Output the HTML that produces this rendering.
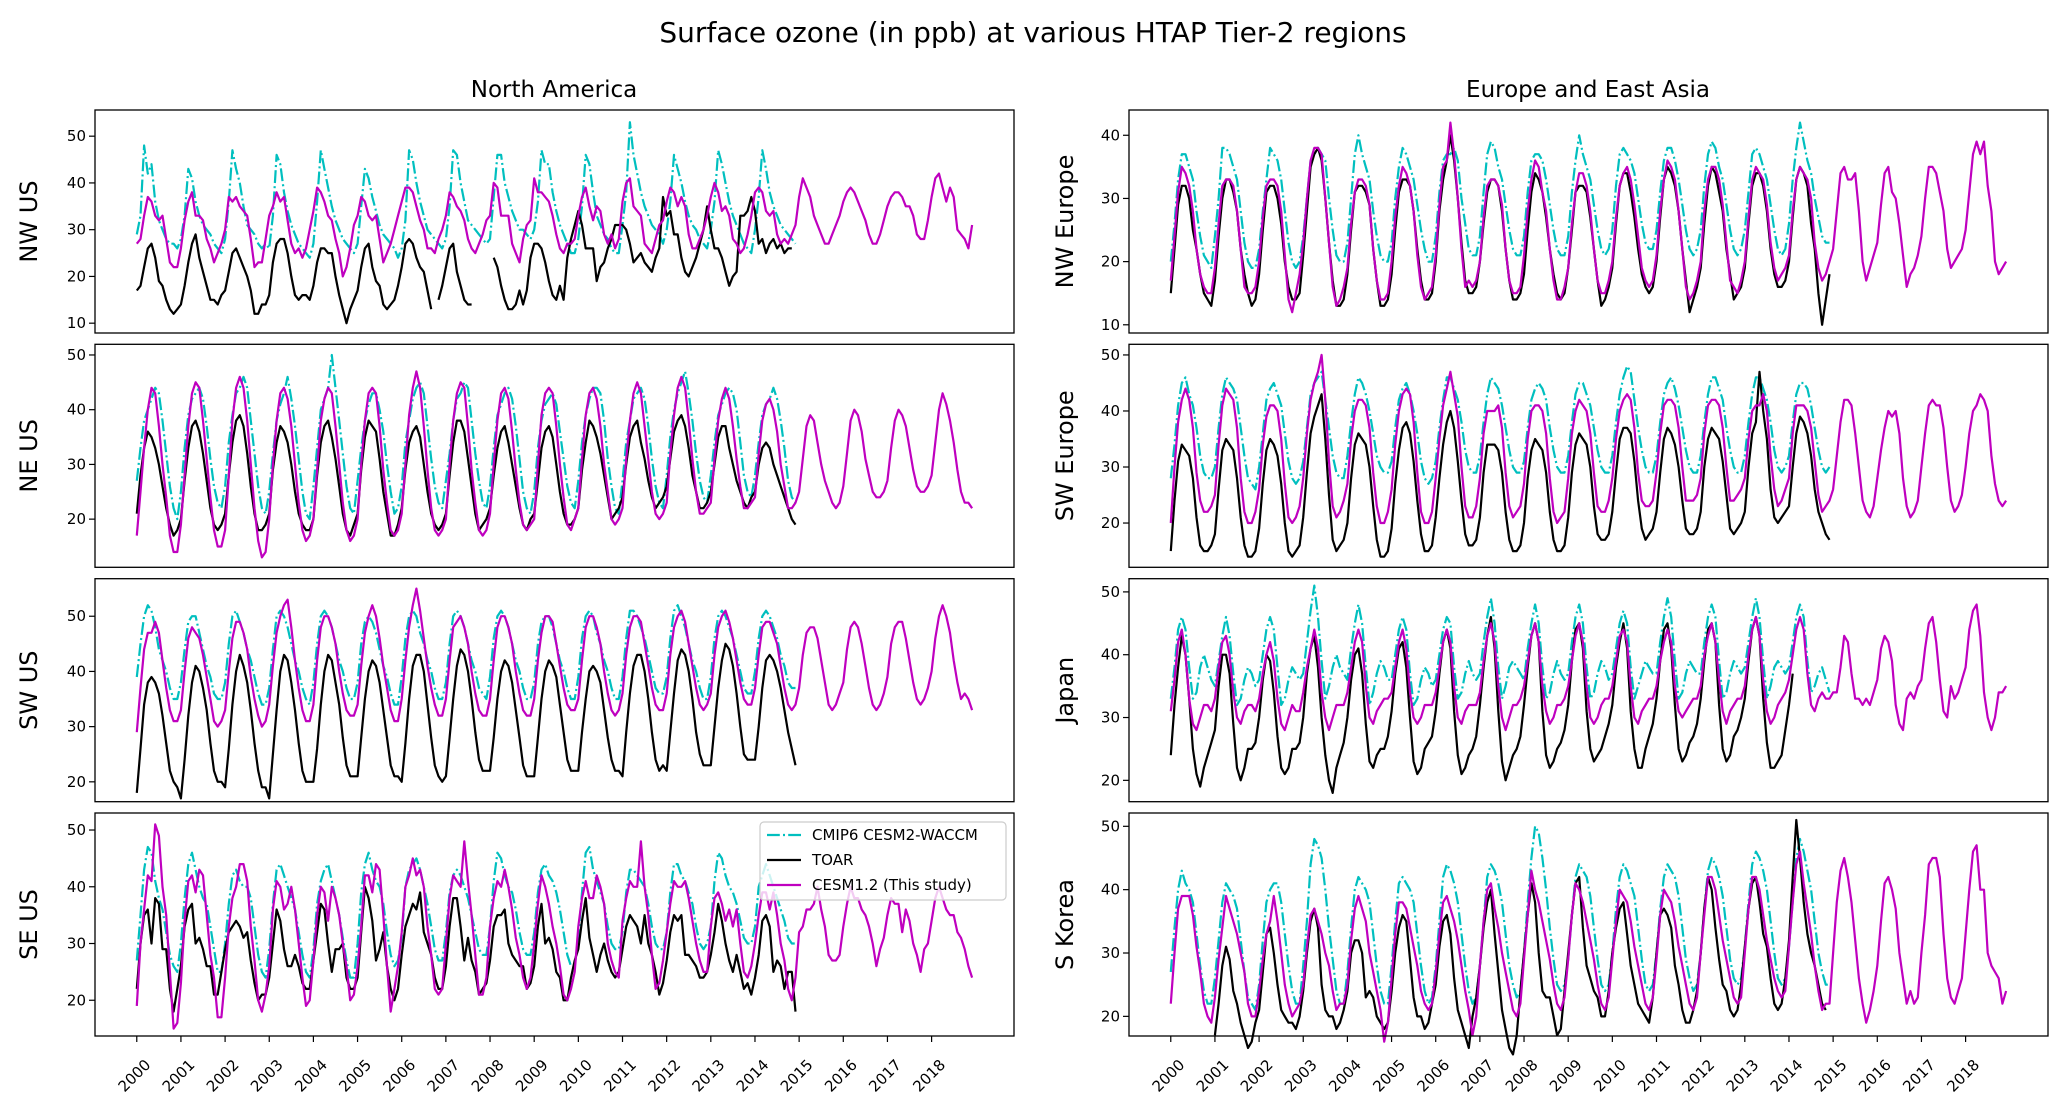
<!DOCTYPE html>
<html><head><meta charset="utf-8"><style>
body{margin:0;background:#fff;}
svg{display:block;font-family:"DejaVu Sans","Liberation Sans",sans-serif;}
</style></head><body>
<svg id="fig" width="2067" height="1115" viewBox="0 0 2067 1115" xmlns="http://www.w3.org/2000/svg">
<rect width="2067" height="1115" fill="#fff"/>
<text x="1033" y="42" font-size="28" text-anchor="middle">Surface ozone (in ppb) at various HTAP Tier-2 regions</text>
<text x="554" y="97" font-size="23" text-anchor="middle">North America</text>
<text x="1588" y="97" font-size="23" text-anchor="middle">Europe and East Asia</text>
</svg>
<script>
const years = [2000,2001,2002,2003,2004,2005,2006,2007,2008,2009,2010,2011,2012,2013,2014,2015,2016,2017,2018];
const seriesNames = ["CMIP6 CESM2-WACCM","TOAR","CESM1.2 (This study)"];
const N = null;

const nwusCmip=[29,33,48,42,44,36,32,30,28,27,27,26,28,33,43,41,36,33,31,30,29,27,26,25,28,36,47,43,40,35,31,30,29,27,26,27,26,33,46,44,38,34,31,29,27,26,25,24,27,36,47,43,39,35,32,30,28,27,26,25,27,35,43,41,37,34,31,29,28,27,26,24,26,32,47,45,40,36,33,30,29,28,27,26,28,35,47,46,40,36,32,31,30,29,28,27,28,37,46,46,40,37,34,32,30,30,29,28,30,36,47,44,44,38,34,31,29,27,25,25,28,35,46,44,38,33,31,29,28,26,25,25,31,38,53,46,42,38,35,33,31,30,29,27,30,36,46,43,40,36,33,31,30,28,27,26,30,36,47,44,40,36,33,31,29,27,26,25,30,37,47,43,38,35,33,31,30,29,28,27];
const nwusToar=[17,18,22,26,27,24,19,18,15,13,12,13,14,18,23,27,29,24,21,18,15,15,14,16,17,21,25,26,24,22,20,17,12,12,14,14,16,23,27,28,28,25,20,16,15,16,16,15,18,23,26,26,25,25,20,16,13,10,13,15,17,22,26,27,22,19,18,14,13,14,15,18,22,27,28,27,24,22,21,17,13,N,15,18,22,26,27,21,18,15,14,14,N,N,N,18,N,24,22,18,15,13,13,14,17,14,17,24,27,27,26,23,19,16,15,18,15,24,28,31,34,31,26,26,26,19,22,23,26,28,31,31,31,30,27,23,24,25,23,22,21,24,26,37,33,34,29,29,24,21,20,22,24,27,30,35,30,26,26,24,21,18,20,21,33,33,34,37,34,27,28,25,27,28,26,27,25,26,26,N];
const nwusCesm=[27,28,33,37,36,33,32,33,28,23,22,22,26,32,36,38,33,33,32,28,26,23,25,27,30,37,36,37,35,34,33,28,22,23,23,28,33,35,38,36,37,32,27,25,26,24,26,30,34,39,38,36,33,32,28,25,20,22,26,31,33,37,36,33,32,33,28,23,25,27,30,33,36,39,39,38,35,32,30,26,26,25,28,30,33,38,37,35,34,32,28,26,25,27,29,32,33,40,39,33,33,33,27,25,23,28,31,32,41,38,38,37,36,33,29,26,25,27,27,28,33,37,39,35,32,35,34,29,27,29,26,28,36,40,41,35,34,33,27,26,25,28,31,32,36,39,38,35,37,35,29,26,26,28,30,33,37,40,38,34,35,33,28,27,25,26,29,33,38,39,38,34,33,34,29,27,28,27,29,31,37,41,39,37,33,31,29,27,27,29,31,33,36,38,39,38,36,34,32,29,27,27,29,32,35,37,38,38,37,35,35,33,29,28,28,32,37,41,42,39,36,39,37,30,29,28,26,31];

const neusCmip=[27,33,38,40,42,44,43,38,32,26,22,20,25,33,39,42,43,44,42,37,31,26,23,22,26,34,39,43,44,46,44,38,32,26,22,21,25,32,38,41,43,46,42,37,31,25,21,20,26,33,40,42,44,50,44,38,32,26,22,21,27,33,38,41,43,43,40,36,30,25,21,22,26,34,38,42,44,45,43,37,31,26,23,22,27,32,38,42,43,45,44,38,32,27,23,22,26,33,39,41,43,44,42,37,31,25,22,21,25,33,38,41,42,43,41,36,31,26,23,22,27,34,39,42,44,44,43,38,31,26,22,21,27,34,38,42,43,44,42,37,31,26,23,22,28,35,40,43,45,47,43,38,32,27,24,23,28,34,39,41,43,44,43,40,34,28,25,24,28,34,39,41,42,44,42,38,33,27,24,23];
const neusToar=[21,28,33,36,35,33,30,26,22,19,17,18,20,27,33,37,38,36,32,27,22,19,18,19,21,28,34,38,39,37,32,26,21,18,18,19,21,29,34,37,36,34,30,25,21,19,18,18,20,28,34,37,38,35,31,26,21,18,17,19,21,29,35,38,37,36,31,25,21,17,17,19,22,29,34,36,37,35,30,25,21,19,18,19,21,28,34,38,38,36,31,26,21,18,19,20,22,28,33,36,37,34,30,26,22,19,18,20,21,27,33,36,37,35,30,25,21,19,19,20,22,29,34,38,37,35,32,28,24,20,21,22,24,30,35,37,38,34,31,27,24,22,23,24,26,31,36,38,39,37,33,28,25,22,22,23,25,30,35,37,37,33,30,27,25,23,22,24,25,30,33,34,33,30,28,26,24,22,20,19];
const neusCesm=[17,25,33,40,44,43,37,30,24,17,14,14,19,28,37,43,45,44,38,31,24,18,15,15,18,28,38,44,46,44,38,30,22,16,13,14,20,30,38,43,44,42,37,30,23,18,16,17,20,29,38,42,44,43,37,30,23,18,16,17,20,30,38,43,44,43,37,29,23,18,17,18,21,30,39,44,47,44,37,29,22,18,17,18,20,30,38,43,45,44,37,29,23,18,17,18,21,30,38,43,44,42,36,29,23,19,18,19,20,30,39,43,44,43,37,30,24,19,18,20,22,31,39,43,44,42,37,30,25,20,19,20,22,31,38,43,45,43,37,31,25,21,20,21,23,32,39,44,46,44,38,31,25,21,21,22,23,31,38,42,44,42,37,31,26,22,22,23,24,32,38,41,42,40,36,30,26,22,22,23,25,31,37,39,38,34,30,27,25,23,22,23,26,32,38,40,39,36,31,28,25,24,24,25,27,33,38,40,39,37,33,29,26,25,25,26,28,34,40,43,41,38,34,29,25,23,23,22];

const swusCmip=[39,45,50,52,51,48,44,42,40,37,35,35,38,44,49,50,50,47,44,41,39,36,35,35,38,45,50,51,49,47,44,42,39,36,34,34,37,44,50,51,50,48,45,42,40,37,35,34,38,45,50,51,50,48,45,42,40,37,35,35,38,45,49,50,49,47,44,41,39,36,34,34,39,46,50,51,50,47,45,42,40,37,35,35,38,45,50,51,50,48,45,42,40,37,36,35,39,46,50,51,50,48,45,42,40,37,35,35,38,45,49,50,50,48,45,42,40,37,35,35,39,46,50,51,50,47,45,42,40,37,35,35,39,46,51,51,50,48,46,43,40,37,36,36,39,46,51,52,50,48,45,42,40,37,35,35,39,46,50,51,50,48,46,43,40,37,36,36,40,46,50,51,50,48,46,43,41,38,37,37];
const swusToar=[18,26,34,38,39,38,36,32,27,22,20,19,17,24,32,38,41,40,37,33,27,22,20,20,19,26,34,40,43,41,38,33,27,22,19,19,17,25,33,40,43,42,38,33,27,22,20,20,20,26,34,40,43,42,38,34,28,23,21,21,21,28,35,40,42,41,38,33,28,23,21,21,20,27,35,41,43,43,40,34,28,23,21,20,21,28,35,41,44,43,40,35,29,24,22,22,22,28,35,40,42,41,38,33,28,23,21,21,21,28,35,40,42,41,39,34,29,24,22,22,22,29,35,40,41,40,38,33,28,24,22,22,21,29,36,41,43,43,40,35,29,24,22,23,22,29,36,42,44,43,40,35,29,25,23,23,23,30,37,42,45,44,41,36,30,25,24,24,24,30,37,42,43,42,40,37,33,29,26,23];
const swusCesm=[29,37,44,47,47,49,47,42,37,33,31,31,33,40,46,48,47,46,43,39,35,31,30,31,33,40,46,49,49,47,44,39,35,32,30,31,34,41,47,50,52,53,48,42,37,33,31,31,34,42,48,50,50,48,45,40,36,33,32,32,34,41,47,50,52,50,46,41,37,33,31,31,35,42,48,52,55,51,46,41,37,34,32,32,35,42,48,49,50,48,45,40,36,33,32,32,35,42,48,50,50,48,45,40,36,33,32,32,35,42,47,50,50,49,45,41,37,34,33,33,35,42,48,50,50,48,45,40,36,33,32,33,36,43,48,50,50,49,45,41,37,34,33,33,36,43,48,50,51,49,45,41,37,34,33,34,36,43,48,50,51,49,46,42,38,35,34,34,37,43,48,49,49,47,45,41,37,34,33,34,37,43,47,48,48,46,42,38,34,33,34,36,38,44,48,49,48,45,41,37,34,33,34,36,39,45,48,49,49,46,42,38,35,34,35,37,40,46,50,52,50,47,42,38,35,36,35,33];

const seusCmip=[27,35,43,47,46,41,38,36,32,28,26,25,30,38,44,46,43,40,38,37,33,29,25,25,30,37,42,43,41,40,40,38,33,28,25,24,29,37,43,44,42,40,38,36,32,28,25,24,29,37,41,43,44,41,38,35,31,27,24,24,30,39,44,46,43,41,40,37,32,28,26,27,31,40,43,44,45,43,40,37,33,29,27,27,32,39,42,43,42,40,38,35,32,29,28,28,33,41,46,45,42,40,39,36,32,29,28,28,32,39,43,44,42,41,39,36,32,28,26,26,31,39,46,47,43,41,39,37,33,30,29,29,32,39,43,43,42,41,40,37,33,30,29,29,32,39,44,44,42,41,39,37,33,30,29,30,33,41,46,45,42,40,39,37,34,31,30,30,33,40,42,44,42,40,38,36,34,31,30,30];
const seusToar=[22,30,35,36,30,38,37,29,29,22,18,22,26,33,36,37,30,31,29,26,26,21,21,25,29,32,33,34,33,31,32,27,23,20,21,21,24,30,36,34,29,26,26,28,26,23,22,22,27,32,37,36,30,25,29,29,30,24,22,22,24,32,40,38,34,27,29,32,26,22,20,22,28,33,35,37,36,39,32,30,28,24,22,22,26,33,38,38,33,27,31,27,25,21,22,23,27,33,35,35,36,30,28,27,26,26,22,23,26,33,37,30,31,29,25,24,20,20,24,27,29,34,38,31,28,25,28,30,27,25,24,25,29,33,35,34,33,30,35,30,28,25,21,23,27,32,35,34,35,28,28,27,26,24,24,25,28,32,37,34,30,27,25,28,25,22,23,21,24,28,34,35,33,25,27,26,22,25,25,18];
const seusCesm=[19,30,36,42,41,51,49,40,35,25,15,16,23,34,41,42,39,43,42,35,28,24,17,17,24,33,38,40,44,44,41,33,27,20,18,21,26,36,41,40,36,37,40,36,30,24,19,20,27,35,40,39,34,40,38,35,30,26,20,21,26,33,42,42,39,44,43,35,26,18,22,26,32,40,42,45,42,43,40,33,28,22,21,22,30,38,42,41,40,48,41,35,28,21,21,24,33,38,41,40,43,40,36,31,28,24,22,24,30,37,42,40,37,33,30,26,21,20,22,25,33,38,41,38,38,42,40,37,30,27,25,24,34,38,41,40,40,48,40,35,28,22,23,27,32,37,41,40,40,41,38,34,30,27,25,25,33,38,39,37,34,36,33,36,30,25,24,26,30,35,39,39,36,39,35,30,27,22,20,24,32,33,36,36,37,40,36,33,28,27,27,28,33,37,40,38,38,36,35,33,30,26,29,31,35,38,37,37,32,36,34,30,28,25,29,30,34,38,40,38,36,35,35,32,31,29,26,24];

const nweCmip=[20,26,33,37,37,35,33,28,24,21,20,19,24,30,38,38,37,35,33,28,23,20,19,19,22,28,33,38,37,36,33,28,23,20,19,20,24,30,36,37,38,37,36,30,25,21,20,20,23,30,37,40,37,35,33,28,24,21,20,20,23,30,35,38,37,35,33,29,25,22,20,20,24,31,36,37,37,38,36,30,26,22,21,21,24,31,37,39,38,35,33,29,25,22,21,21,24,31,36,37,37,36,33,29,25,22,21,21,24,31,36,40,37,35,33,29,25,22,21,22,25,32,37,38,37,36,34,30,26,23,22,22,25,31,36,38,38,36,33,29,25,22,21,22,25,32,37,39,38,35,33,29,25,22,21,22,25,31,37,38,37,35,33,29,25,22,21,22,26,33,38,42,39,36,34,30,27,24,23,23];
const nweToar=[15,22,29,32,32,30,25,22,18,15,14,13,17,24,30,33,33,31,28,22,18,15,13,14,18,25,31,32,32,30,26,20,16,14,14,15,21,28,35,37,38,36,30,23,17,13,13,14,18,25,31,32,32,31,29,22,17,13,13,14,18,25,31,33,33,32,28,22,17,14,14,15,20,28,33,36,40,36,30,23,17,15,15,16,20,26,31,33,33,32,28,22,17,14,14,15,18,25,31,34,33,31,27,22,18,15,14,15,19,25,31,32,32,31,27,22,17,13,14,16,19,26,32,34,34,31,27,22,18,16,15,16,20,27,33,35,34,32,28,22,17,12,14,16,19,26,32,35,34,31,28,22,18,14,15,16,19,26,32,34,34,32,28,22,18,16,16,17,20,27,33,35,34,32,26,22,15,10,14,18];
const nweCesm=[17,24,31,35,34,32,28,22,18,16,15,15,19,26,32,33,33,32,28,22,16,15,15,16,20,27,32,33,33,32,28,21,14,12,15,18,23,30,36,38,38,37,30,23,16,13,14,16,19,26,31,33,33,32,29,22,17,14,14,15,20,27,32,35,34,32,28,21,16,14,15,16,21,29,35,36,42,37,30,22,16,17,16,17,20,27,32,33,33,32,29,22,17,15,15,16,21,28,33,36,35,31,28,22,17,14,14,16,19,26,31,34,34,32,28,22,17,15,15,17,20,27,32,34,35,33,29,24,19,17,16,17,21,28,33,36,35,33,28,22,16,14,15,17,20,28,33,35,35,33,29,23,17,16,15,17,20,27,33,35,34,33,29,23,19,17,18,19,21,28,33,35,34,33,30,23,19,17,18,20,22,28,34,35,33,33,34,28,20,17,19,21,23,29,34,35,31,30,26,21,16,18,19,21,24,30,35,35,34,31,28,22,19,20,21,22,25,31,37,39,37,39,32,28,20,18,19,20];

const sweCmip=[28,34,41,45,46,43,41,37,32,29,28,28,30,37,43,46,45,44,42,37,32,28,27,26,30,36,42,44,45,43,41,36,31,28,27,28,31,37,43,45,46,47,42,37,32,29,28,28,32,38,43,46,45,43,40,36,32,30,29,29,31,37,42,44,45,43,40,36,31,28,27,28,31,37,42,46,46,44,42,38,33,30,29,29,32,38,43,46,45,44,41,37,33,30,29,29,31,37,42,44,45,44,42,37,33,30,29,29,32,38,43,45,45,43,41,37,33,30,29,29,32,38,43,46,48,47,42,37,33,30,29,29,32,38,43,45,46,44,41,37,33,30,29,29,32,38,43,46,46,44,42,37,33,30,29,29,32,38,43,46,46,44,42,38,33,30,29,30,32,38,43,45,45,44,41,37,33,30,29,30];
const sweToar=[15,24,31,34,33,32,28,21,16,15,15,16,18,26,33,35,34,33,28,21,16,14,14,15,19,27,33,35,34,32,27,20,15,14,15,16,21,29,36,39,41,43,35,25,17,15,16,17,20,28,34,36,35,34,30,23,17,14,14,15,19,27,33,37,38,36,31,24,18,15,15,16,21,28,34,38,40,37,31,24,18,16,16,17,21,29,34,34,34,33,29,22,17,15,15,16,20,28,33,35,34,33,29,22,17,15,15,16,21,29,34,36,35,34,30,23,18,17,17,18,22,29,35,37,37,36,31,24,19,17,18,19,22,29,35,37,36,34,30,24,19,18,18,19,22,30,35,37,36,35,31,25,19,18,19,20,22,30,36,38,47,40,35,26,21,20,21,22,23,30,36,39,38,36,32,26,22,20,18,17];
const sweCesm=[20,30,38,42,44,42,37,29,24,22,22,23,25,34,41,44,43,42,37,28,22,20,20,22,26,34,39,41,41,40,35,27,21,20,21,23,28,36,42,45,47,50,42,31,23,21,22,24,27,35,40,42,42,41,37,29,23,20,20,22,26,34,40,43,44,43,38,29,22,20,20,22,28,35,41,44,47,43,39,30,23,21,21,23,28,36,40,40,40,41,37,29,23,21,22,23,27,35,40,41,41,40,36,28,22,20,21,22,28,36,40,42,41,40,36,29,23,22,22,24,28,35,40,42,43,42,37,29,24,23,23,24,29,36,41,42,42,41,37,30,24,24,24,25,28,36,41,42,42,41,37,30,24,24,25,26,28,35,40,41,41,43,40,32,26,23,24,26,28,36,41,41,41,40,37,31,25,22,23,24,26,32,38,42,42,41,36,30,24,22,21,23,28,33,37,40,39,40,36,28,23,21,22,24,30,36,41,42,41,41,37,30,24,22,23,25,30,36,40,41,43,42,40,32,27,24,23,24];

const japCmip=[33,38,44,46,44,38,33,34,38,40,38,36,35,39,43,46,43,37,32,33,36,38,37,35,36,40,44,46,44,38,32,33,36,38,37,36,37,42,47,51,46,39,33,35,38,40,38,37,36,41,45,48,45,38,32,34,37,39,38,36,36,40,44,46,44,37,32,33,36,38,37,35,36,40,44,46,45,38,33,34,37,39,37,36,37,42,46,49,45,38,33,35,38,39,38,37,36,41,45,48,45,38,33,34,37,39,37,36,37,42,46,48,45,38,33,34,37,39,38,36,37,41,45,47,45,38,33,35,37,39,38,37,37,42,46,49,46,39,33,34,37,39,38,37,37,42,46,48,46,39,33,34,37,39,38,37,38,42,46,49,46,39,33,35,38,39,38,37,38,42,46,48,46,39,34,35,37,38,36,34];
const japToar=[24,32,38,43,40,33,25,21,19,22,24,26,28,35,40,40,37,29,22,20,22,25,25,26,30,36,40,39,34,27,22,21,22,25,25,26,30,37,41,43,38,30,24,20,18,22,24,26,30,36,40,41,37,29,23,22,24,25,25,27,31,37,41,42,38,30,23,21,22,25,26,27,31,37,42,44,41,31,24,21,22,24,25,27,32,38,43,46,41,31,23,20,22,24,25,27,32,38,43,45,42,31,24,22,23,25,26,28,32,39,44,45,41,31,25,23,24,25,27,29,32,38,42,45,41,31,25,22,22,25,27,29,33,39,44,45,41,32,25,23,24,26,27,29,33,39,44,45,42,32,25,23,24,27,28,30,33,39,44,46,43,33,26,22,22,23,24,28,32,37,N,N,N,N,N,N,N,N,N,N];
const japCesm=[31,36,42,44,40,33,29,28,30,32,32,31,33,38,42,43,40,34,30,29,31,32,32,31,33,37,40,42,39,33,29,28,30,32,31,31,34,38,41,44,41,34,30,28,30,32,32,32,34,38,42,44,42,35,30,29,31,32,33,33,34,38,42,44,41,34,30,29,30,32,32,32,34,38,42,44,42,35,30,29,31,32,32,32,34,39,43,45,42,35,30,28,30,32,32,33,35,39,43,45,42,35,31,29,30,32,32,33,35,39,43,45,42,35,30,29,30,32,33,33,35,39,43,44,42,35,30,29,31,32,33,33,35,39,42,44,42,35,31,30,31,32,33,33,35,40,43,45,42,36,31,29,31,32,33,33,35,40,44,46,43,36,31,29,30,32,33,34,36,40,44,46,44,37,32,31,33,34,33,33,34,34,38,43,42,37,33,33,32,33,32,34,36,41,43,42,39,32,29,28,33,34,33,35,36,41,45,46,42,36,31,30,35,33,34,36,38,44,47,48,43,34,30,28,30,34,34,35];

const skorCmip=[27,34,40,43,41,40,38,33,28,24,22,22,26,32,38,41,40,39,37,32,27,23,22,21,25,32,38,40,41,41,38,33,28,24,22,22,28,35,44,48,47,45,40,34,29,24,22,22,27,34,40,42,41,40,38,33,28,24,22,22,28,35,41,42,41,40,38,33,28,24,22,23,28,35,42,44,43,41,38,33,28,24,22,23,28,35,42,44,43,41,38,33,28,25,23,24,30,38,45,50,49,45,40,34,29,25,24,25,29,36,42,44,43,42,39,34,29,25,24,25,30,37,42,44,43,41,39,34,29,25,24,25,30,37,42,44,43,42,39,34,29,26,24,25,30,37,43,45,44,42,39,34,29,26,25,26,31,38,44,46,45,43,40,35,30,26,25,26,31,38,45,48,46,43,40,35,30,27,25,25];
const skorToar=[N,N,N,N,N,N,N,N,N,N,N,N,17,22,28,31,29,24,22,19,17,15,16,19,21,27,33,34,30,25,21,20,19,19,18,20,24,30,35,37,34,25,21,20,20,18,19,21,24,30,32,32,30,23,24,23,20,19,18,19,24,30,34,36,35,29,23,20,20,18,19,22,25,31,35,36,33,26,21,19,17,15,20,23,28,34,38,40,33,27,21,18,15,14,17,24,30,36,41,38,30,24,23,23,20,17,18,24,30,36,41,42,34,28,26,24,23,20,20,24,30,34,37,38,33,28,25,22,21,20,19,23,30,36,37,36,34,28,25,21,19,19,21,24,30,37,42,40,34,29,25,24,21,20,21,25,31,37,41,42,38,33,31,26,22,21,22,26,32,42,51,45,38,33,30,28,25,22,21,N];
const skorCesm=[22,30,37,39,39,39,36,31,27,22,20,19,23,29,34,39,37,35,33,30,27,22,20,20,24,29,33,35,39,35,30,25,22,20,21,22,25,31,36,37,35,33,30,28,24,21,22,22,25,32,37,39,37,35,30,27,24,21,16,19,26,33,38,38,37,34,31,28,24,22,21,22,27,33,38,39,37,35,32,28,24,21,17,20,28,35,40,41,37,34,30,27,24,21,20,22,29,36,43,40,38,35,32,29,25,22,21,23,29,36,41,40,38,35,32,29,25,22,21,23,29,35,40,39,38,35,31,28,25,22,21,23,29,36,40,39,38,35,31,28,25,22,21,23,30,36,42,42,40,36,32,29,26,23,22,23,30,37,42,42,40,36,32,29,26,24,23,24,31,38,44,46,41,37,33,28,24,21,22,22,30,38,43,45,42,38,32,26,22,19,21,24,28,35,41,42,40,37,30,26,22,24,22,23,30,36,44,45,45,42,33,26,23,22,24,26,33,40,46,47,40,40,30,28,27,26,22,24];

const panels=[
 {name:"nw-us",label:"NW US",col:0,row:0,ymin:7.9,ymax:55.6,ticks:[10,20,30,40,50],cmip:nwusCmip,toar:nwusToar,cesm:nwusCesm},
 {name:"ne-us",label:"NE US",col:0,row:1,ymin:11.2,ymax:51.95,ticks:[20,30,40,50],cmip:neusCmip,toar:neusToar,cesm:neusCesm},
 {name:"sw-us",label:"SW US",col:0,row:2,ymin:16.4,ymax:56.8,ticks:[20,30,40,50],cmip:swusCmip,toar:swusToar,cesm:swusCesm},
 {name:"se-us",label:"SE US",col:0,row:3,ymin:13.7,ymax:53.0,ticks:[20,30,40,50],cmip:seusCmip,toar:seusToar,cesm:seusCesm,legend:true},
 {name:"nw-europe",label:"NW Europe",col:1,row:0,ymin:8.7,ymax:44,ticks:[10,20,30,40],cmip:nweCmip,toar:nweToar,cesm:nweCesm},
 {name:"sw-europe",label:"SW Europe",col:1,row:1,ymin:12.1,ymax:51.9,ticks:[20,30,40,50],cmip:sweCmip,toar:sweToar,cesm:sweCesm},
 {name:"japan",label:"Japan",col:1,row:2,ymin:16.6,ymax:52.1,ticks:[20,30,40,50],cmip:japCmip,toar:japToar,cesm:japCesm},
 {name:"s-korea",label:"S Korea",col:1,row:3,ymin:16.9,ymax:52.1,ticks:[20,30,40,50],cmip:skorCmip,toar:skorToar,cesm:skorCesm}
];

const NS="http://www.w3.org/2000/svg";
const svg=document.getElementById('fig');
const colLeft=[95,1129], axW=919, axH=223, rowTop=[110,344.3,578.7,813];
const X0=1999.054, X1=2019.866;
function mk(tag,attrs,parent){const e=document.createElementNS(NS,tag);for(const k in attrs)e.setAttribute(k,attrs[k]);(parent||svg).appendChild(e);return e;}

panels.forEach(p=>{
  const L=colLeft[p.col], T=rowTop[p.row];
  const xs=t=>L+(t-X0)/(X1-X0)*axW;
  const ys=v=>T+axH-(v-p.ymin)/(p.ymax-p.ymin)*axH;
  const g=mk('g',{});
  
  
  // y ticks
  p.ticks.forEach(v=>{
    const y=ys(v);
    const tk=mk('line',{x1:L-6,x2:L,y1:y,y2:y,stroke:'#000','stroke-width':1.2},g);
    
    
    const tl=mk('text',{x:L-9,y:y+5,'font-size':15,'text-anchor':'end'},g);
    tl.textContent=v;
    
    
  });
  // series
  const defs=[['cmip','#00bfbf','12.8,3.2,2,3.2'],['toar','#000',''],['cesm','#bf00bf','']];
  const order=['cmip','toar','cesm'];
  order.forEach(key=>{
    const d=defs.find(q=>q[0]===key);
    const arr=p[key];
    let path='',pen=false;
    arr.forEach((v,i)=>{
      if(v===null){pen=false;return;}
      const x=xs(years[0]+i/12), y=ys(v);
      path+=(pen?'L':'M')+x.toFixed(1)+','+y.toFixed(1);
      pen=true;
    });
    const ln=mk('path',{d:path,fill:'none',stroke:d[1],'stroke-width':2.2,'stroke-linejoin':'round'},g);
    if(d[2])ln.setAttribute('stroke-dasharray',d[2]);
    
    
  });
  // frame
  const fr=mk('rect',{x:L,y:T,width:axW,height:axH,fill:'none',stroke:'#000','stroke-width':1.3},g);
  
  
  // y label
  const cx=p.col===0?30:1066, cy=T+axH/2;
  const yl=mk('text',{x:cx,y:cy,'font-size':24,'text-anchor':'middle',transform:`rotate(-90 ${cx} ${cy})`,'dominant-baseline':'middle'},g);
  yl.textContent=p.label;
  
  
  // x ticks on bottom row
  if(p.row===3){
    years.forEach(yr=>{
      const x=xs(yr), b=T+axH;
      const tk=mk('line',{x1:x,x2:x,y1:b,y2:b+6,stroke:'#000','stroke-width':1.2},g);
      
      
      const tx=x-2, ty=b+40;
      const tl=mk('text',{x:tx,y:ty,'font-size':15,'text-anchor':'middle','dominant-baseline':'middle',transform:`rotate(-45 ${tx} ${ty})`},g);
      tl.textContent=yr;
      
      
    });
  }
  if(p.legend){
    const lg=mk('g',{},g);
    
    
    mk('rect',{x:760,y:822,width:246,height:78,rx:4,fill:'#fff','fill-opacity':0.8,stroke:'#ccc','stroke-width':1.2},lg);
    const cols=['#00bfbf','#000','#bf00bf'];
    seriesNames.forEach((nm,i)=>{
      const y=835+i*25;
      const ll=mk('line',{x1:767,x2:801,y1:y,y2:y,stroke:cols[i],'stroke-width':2.2},lg);
      if(i===0)ll.setAttribute('stroke-dasharray','12.8,3.2,2,3.2');
      
      
      const lt=mk('text',{x:812,y:y+5,'font-size':15},lg);
      lt.textContent=nm;
      
      
    });
  }
});
</script>
</body></html>
